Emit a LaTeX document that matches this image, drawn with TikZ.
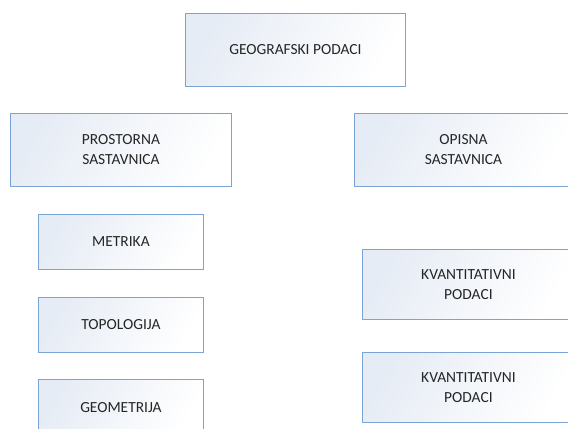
\documentclass[tikz,border=0pt]{standalone}
\usepackage{fontspec}
\setmainfont{Carlito}
\definecolor{boxline}{HTML}{7AA3D6}
\definecolor{boxshade}{HTML}{E6ECF5}
\definecolor{txt}{HTML}{262626}
\begin{document}
\begin{tikzpicture}[x=1bp,y=-1bp,
  box/.style={draw=boxline, line width=0.9bp, left color=boxshade, right color=white, shading angle=60,
    text=txt, align=center, font=\fontsize{15.5}{20}\selectfont, inner sep=0pt, anchor=north west}]
\clip (0,0) rectangle (568,428);
\fill[white] (0,0) rectangle (568,428);
\node[box, minimum width=220bp, minimum height=73bp] (geo) at (185,13) {GEOGRAFSKI PODACI};
\node[box, minimum width=221bp, minimum height=73bp] (pro) at (10,113) {PROSTORNA\\SASTAVNICA};
\node[box, minimum width=218bp, minimum height=73bp] (opi) at (354,113) {OPISNA\\SASTAVNICA};
\node[box, minimum width=165bp, minimum height=55bp] (met) at (38,214) {METRIKA};
\node[box, minimum width=165bp, minimum height=55bp] (top) at (38,297) {TOPOLOGIJA};
\node[box, minimum width=165bp, minimum height=56bp] (gmt) at (38,379) {GEOMETRIJA};
\node[box, minimum width=212bp, minimum height=70bp] (kv1) at (362,249) {KVANTITATIVNI\\PODACI};
\node[box, minimum width=212bp, minimum height=70bp] (kv2) at (362,352) {KVANTITATIVNI\\PODACI};
\end{tikzpicture}
\end{document}
